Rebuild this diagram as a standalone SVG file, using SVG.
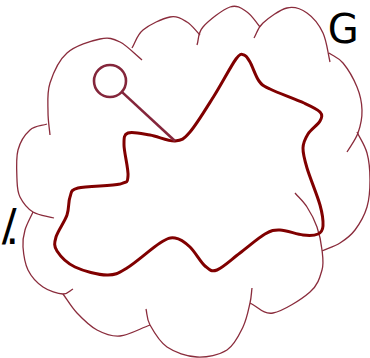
<svg xmlns="http://www.w3.org/2000/svg" width="370" height="358" viewBox="0 0 370 358">
<style>
.cloud{fill:none;stroke:#8a2c3c;stroke-width:1.3;stroke-linecap:butt}
.curve{fill:none;stroke:#800000;stroke-width:3;stroke-linejoin:round}
.handle{fill:none;stroke:#84263b;stroke-width:2.6}
.lbl{font-family:"DejaVu Sans",sans-serif;fill:#000}
</style>
<rect width="370" height="358" fill="#fff"/>
<g id="cloud">
<path class="cloud" d="M50,135 C49.3,127.3 48,120.7 48,112 C48,103.3 46.8,92.8 50,83 C53.2,73.2 58.7,60.3 67,53 C75.3,45.7 91.2,40.8 100,39 C108.8,37.2 113,38.5 120,42 C127,45.5 134.7,54 142,60"/>
<path class="cloud" d="M132,48 C135.7,42 136.7,35.2 143,30 C149.3,24.8 162.7,18.3 170,17 C177.3,15.7 182,19 187,22 C192,25 195.7,30.7 200,35"/>
<path class="cloud" d="M197,45 C199,39 197.5,33.3 203,27 C208.5,20.7 222.7,9.5 230,7 C237.3,4.5 242,8.7 247,12 C252,15.3 255.7,22 260,27"/>
<path class="cloud" d="M254,38 C257,33 257.5,28 263,23 C268.5,18 279.7,9.7 287,8 C294.3,6.3 301,8.8 307,13 C313,17.2 319.2,24.8 323,33 C326.8,41.2 327.7,52.3 330,62"/>
<path class="cloud" d="M329,53 C333.7,56.3 338.3,57.3 343,63 C347.7,68.7 353.8,79.2 357,87 C360.2,94.8 361.8,102.3 362,110 C362.2,117.7 360.5,126 358,133 C355.5,140 350.7,145.7 347,152"/>
<path class="cloud" d="M357,132 C360.3,139 364.8,145 367,153 C369.2,161 370,171 370,180 C370,189 369.5,198.7 367,207 C364.5,215.3 359.5,224 355,230 C350.5,236 345.5,239.5 340,243 C334.5,246.5 328,248.3 322,251"/>
<path class="cloud" d="M295,193 C299,197.7 303.3,201.3 307,207 C310.7,212.7 314.5,219.8 317,227 C319.5,234.2 321.2,242.8 322,250 C322.8,257.2 324,263 322,270 C320,277 318.2,284.8 310,292 C301.8,299.2 283,311.2 273,313 C263,314.8 257.7,306.3 250,303"/>
<path class="cloud" d="M252,288 C251.3,293 251.5,296.5 250,303 C248.5,309.5 246.8,319.2 243,327 C239.2,334.8 234.7,345 227,350 C219.3,355 207,357.5 197,357 C187,356.5 174.8,352.3 167,347 C159.2,341.7 153.5,331.3 150,325 C146.5,318.7 147.3,314.3 146,309"/>
<path class="cloud" d="M63,294 C67.7,300.3 71.3,307 77,313 C82.7,319 89.8,326.2 97,330 C104.2,333.8 111.2,336.8 120,336 C128.8,335.2 140,328.7 150,325"/>
<path class="cloud" d="M73,289 C69.7,290.7 68,294.3 63,294 C58,293.7 48.8,291 43,287 C37.2,283 31.3,276.7 28,270 C24.7,263.3 23.5,253.7 23,247 C22.5,240.3 23.3,235.8 25,230 C26.7,224.2 30.3,218 33,212"/>
<path class="cloud" d="M54,218 C47,216 38.7,215.5 33,212 C27.3,208.5 22.7,202.3 20,197 C17.3,191.7 17.3,187.8 17,180 C16.7,172.2 15.8,158.3 18,150 C20.2,141.7 25.2,134.3 30,130 C34.8,125.7 41.3,126 47,124"/>
</g>
<g id="curve">
<path class="curve" d="M175,141 C181.7,140.5 183.5,139.5 190,132 C196.5,124.5 206.3,108.2 214,96 C221.7,83.8 231,65.8 236,59 C241,52.2 241.7,54.5 244,55 C246.3,55.5 247.5,57.7 250,62 C252.5,66.3 255.7,76.5 259,81 C262.3,85.5 262.5,85.3 270,89 C277.5,92.7 295.7,99.2 304,103 C312.3,106.8 317.3,109 320,112 C322.7,115 322,117.3 320,121 C318,124.7 310.8,129.5 308,134 C305.2,138.5 303.2,142.3 303,148 C302.8,153.7 304.2,158.5 307,168 C309.8,177.5 317.3,195.3 320,205 C322.7,214.7 323.3,221.2 323,226 C322.7,230.8 321.3,232.5 318,234 C314.7,235.5 309.3,235.7 303,235 C296.7,234.3 286.3,230.2 280,230 C273.7,229.8 271.7,230.2 265,234 C258.3,237.8 248,247 240,253 C232,259 222.8,267.8 217,270 C211.2,272.2 209.5,269.8 205,266 C200.5,262.2 195,251.7 190,247 C185,242.3 180,238.7 175,238 C170,237.3 168,238 160,243 C152,248 135.8,262.7 127,268 C118.2,273.3 115.7,275.2 107,275 C98.3,274.8 83.3,271 75,267 C66.7,263 60.2,256 57,251 C53.8,246 54.3,243 56,237 C57.7,231 64.7,221.7 67,215 C69.3,208.3 68.2,201.5 70,197 C71.8,192.5 69.7,190.2 78,188 C86.3,185.8 111.7,186 120,184 C128.3,181.8 127.3,182.5 128,176 C128.7,169.5 124,152.2 124,145 C124,137.8 123.7,134.7 128,133 C132.3,131.3 142.2,133.7 150,135 C157.8,136.3 168.3,141.5 175,141 Z"/>
</g>
<g id="circle">
<circle class="handle" cx="110" cy="81" r="16"/>
</g>
<g id="connectors">
<line class="handle" x1="121.8" y1="91.9" x2="175" y2="141"/>
</g>
<g id="label-G">
<text class="lbl" x="327.8" y="42.7" font-size="40">G</text>
</g>
<g id="label-left">
<text class="lbl" x="1.7" y="241" dx="0 -11.2" dy="0 3" font-size="44">/.</text>
</g>
</svg>
